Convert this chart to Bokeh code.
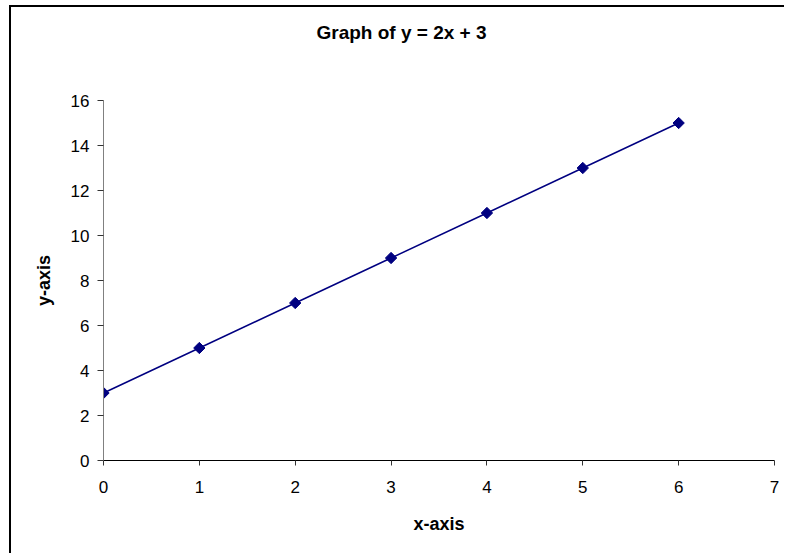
from bokeh.plotting import figure
from bokeh.models import Range1d, FixedTicker, Title
from bokeh.embed import file_html
from bokeh.resources import INLINE
import numpy as np

x_vals = [0, 1, 2, 3, 4, 5, 6]
y_vals = [3, 5, 7, 9, 11, 13, 15]
x_ticks = [0, 1, 2, 3, 4, 5, 6, 7]
y_ticks = [0, 2, 4, 6, 8, 10, 12, 14, 16]
title_text = "Graph of y = 2x + 3"
x_label = "x-axis"
y_label = "y-axis"

FONT = "Liberation Sans"
NAVY = "#000080"

p = figure(width=775, height=548, output_backend="svg", toolbar_location=None,
           title=None,
           x_range=Range1d(0, 7), y_range=Range1d(0, 16),
           min_border_left=92, min_border_right=12, min_border_top=93, min_border_bottom=95)
p.styles = {"border-left": "2px solid black", "border-top": "2px solid black",
            "margin-left": "9px", "margin-top": "5px"}
p.outline_line_color = None
p.xgrid.grid_line_color = None
p.ygrid.grid_line_color = None
p.background_fill_color = "white"
p.border_fill_color = "white"

# spacer between frame and title (blank text)
spacer = Title(text=" ", standoff=33, text_font=FONT, text_font_size="19px",
               text_font_style="bold")
p.add_layout(spacer, "above")
main_title = Title(text=title_text, align="left", vertical_align="top", offset=213,
                   standoff=0, text_font=FONT, text_font_size="19px",
                   text_font_style="bold", text_color="black")
p.add_layout(main_title, "above")

p.line(x_vals, y_vals, line_color=NAVY, line_width=1.5)
p.scatter(x_vals, y_vals, marker="square", size=8, angle=np.pi / 4,
          fill_color=NAVY, line_color=NAVY)

xa = p.xaxis[0]
xa.ticker = FixedTicker(ticks=x_ticks)
xa.minor_tick_line_color = None
xa.major_tick_in = 0
xa.major_tick_out = 5
xa.axis_line_color = "black"
xa.major_tick_line_color = "#333333"
xa.major_label_text_font = FONT
xa.major_label_text_font_size = "17px"
xa.major_label_text_color = "black"
xa.major_label_standoff = 15
xa.axis_label = x_label
xa.axis_label_text_font = FONT
xa.axis_label_text_font_size = "18px"
xa.axis_label_text_font_style = "bold"
xa.axis_label_text_color = "black"
xa.axis_label_standoff = 18

ya = p.yaxis[0]
ya.ticker = FixedTicker(ticks=y_ticks)
ya.minor_tick_line_color = None
ya.major_tick_in = 0
ya.major_tick_out = 6
ya.axis_line_color = "#808080"
ya.major_tick_line_color = "#333333"
ya.major_label_text_font = FONT
ya.major_label_text_font_size = "17px"
ya.major_label_text_color = "black"
ya.major_label_standoff = 8
ya.axis_label = y_label
ya.axis_label_text_font = FONT
ya.axis_label_text_font_size = "18px"
ya.axis_label_text_font_style = "bold"
ya.axis_label_text_color = "black"
ya.axis_label_standoff = 14

open("out.html", "w").write(file_html(p, INLINE))
